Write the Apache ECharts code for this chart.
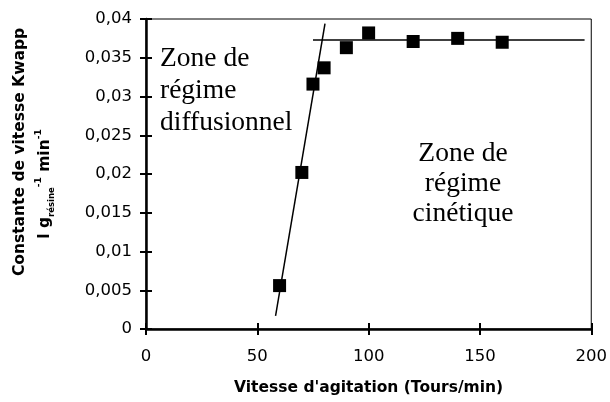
<!DOCTYPE html>
<html>
<head>
<meta charset="utf-8">
<script src="https://cdn.jsdelivr.net/npm/echarts@6/dist/echarts.min.js"></script>
<style>html,body{margin:0;padding:0;background:#fff}#c{width:610px;height:402px}</style>
</head>
<body>
<div id="c"></div>
<script>
// Data
const speeds = [60, 70, 75, 80, 90, 100, 120, 140, 160];
const kwapp = [0.0056, 0.0202, 0.0316, 0.0337, 0.0363, 0.0382, 0.0371, 0.0375, 0.0370];
// Fitted line in the diffusional zone (endpoints)
const diffLineX = [58.2, 80.4];
const diffLineY = [0.0017, 0.0394];
// Plateau line in the kinetic zone (endpoints)
const kinLineX = [75, 197];
const kinLineY = [0.0373, 0.0373];
const xTicks = [0, 50, 100, 150, 200];
const yTicks = [0, 0.005, 0.01, 0.015, 0.02, 0.025, 0.03, 0.035, 0.04];

const zip = (a, b) => a.map((v, i) => [v, b[i]]);
const fmtY = v => v === 0 ? '0' : String(+(+v).toFixed(3)).replace('.', ',');

const chart = echarts.init(document.getElementById('c'), null, {renderer: 'canvas'});
const axisLine = {show: true, lineStyle: {color: '#000', width: 2.5}};
const labelFont = {color: '#000', fontFamily: 'DejaVu Sans', fontSize: 16.5};
chart.setOption({
  animation: false,
  backgroundColor: '#fff',
  grid: {left: 146, right: 15, top: 19, bottom: 73, show: true, borderColor: '#000', borderWidth: 1, backgroundColor: 'transparent'},
  xAxis: [{
    type: 'value', min: xTicks[0], max: xTicks[xTicks.length - 1], interval: 50,
    axisLine: axisLine, splitLine: {show: false},
    axisTick: {show: true, length: 6, lineStyle: {color: '#000', width: 2}},
    axisLabel: Object.assign({margin: 19}, labelFont),
    name: "Vitesse d'agitation (Tours/min)", nameLocation: 'middle', nameGap: 51,
    nameTextStyle: {color: '#000', fontFamily: 'DejaVu Sans', fontWeight: 'bold', fontSize: 15.5}
  }, {
    type: 'value', min: xTicks[0], max: xTicks[xTicks.length - 1], interval: 50, position: 'bottom',
    axisLine: {show: false}, splitLine: {show: false}, axisLabel: {show: false},
    axisTick: {show: true, inside: true, length: 6, lineStyle: {color: '#000', width: 2}}
  }],
  yAxis: [{
    type: 'value', min: yTicks[0], max: yTicks[yTicks.length - 1], interval: 0.005,
    axisLine: axisLine, splitLine: {show: false},
    axisTick: {show: true, length: 6, lineStyle: {color: '#000', width: 2}},
    axisLabel: Object.assign({margin: 14, formatter: fmtY}, labelFont)
  }, {
    type: 'value', min: yTicks[0], max: yTicks[yTicks.length - 1], interval: 0.005, position: 'left',
    axisLine: {show: false}, splitLine: {show: false}, axisLabel: {show: false},
    axisTick: {show: true, inside: true, length: 6, lineStyle: {color: '#000', width: 2}}
  }],
  graphic: [
    {type: 'text', x: 20, y: 152, rotation: Math.PI / 2,
     style: {text: 'Constante de vitesse Kwapp', align: 'center', verticalAlign: 'middle',
             fontFamily: 'DejaVu Sans', fontWeight: 'bold', fontSize: 15.5, fill: '#000'}},
    {type: 'text', x: 45, y: 184, rotation: Math.PI / 2,
     style: {text: '{n|l g}{sub|résine}{sup|-1}{n| min}{sup|-1}', align: 'center', verticalAlign: 'middle',
             fill: '#000',
             rich: {
               n: {fontFamily: 'DejaVu Sans', fontWeight: 'bold', fontSize: 15.5, lineHeight: 22, fill: '#000'},
               sub: {fontFamily: 'DejaVu Sans', fontWeight: 'bold', fontSize: 8.5, lineHeight: 22, verticalAlign: 'bottom', fill: '#000'},
               sup: {fontFamily: 'DejaVu Sans', fontWeight: 'bold', fontSize: 9, lineHeight: 22, verticalAlign: 'top', fill: '#000'}
             }}},
    {type: 'text', x: 160, y: 43,
     style: {text: 'Zone de\nrégime\ndiffusionnel', align: 'left', verticalAlign: 'top',
             fontFamily: 'Liberation Serif', fontSize: 27.5, lineHeight: 32, fill: '#000'}},
    {type: 'text', x: 463, y: 139,
     style: {text: 'Zone de\nrégime\ncinétique', align: 'center', verticalAlign: 'top',
             fontFamily: 'Liberation Serif', fontSize: 27.5, lineHeight: 30, fill: '#000'}}
  ],
  series: [
    {type: 'line', data: zip(diffLineX, diffLineY), showSymbol: false, symbol: 'none',
     lineStyle: {color: '#000', width: 1.5}, z: 2},
    {type: 'line', data: zip(kinLineX, kinLineY), showSymbol: false, symbol: 'none',
     lineStyle: {color: '#000', width: 1.5}, z: 2},
    {type: 'scatter', data: zip(speeds, kwapp), symbol: 'rect', symbolSize: 13,
     itemStyle: {color: '#000', opacity: 1}, z: 3}
  ]
});
</script>
</body>
</html>
